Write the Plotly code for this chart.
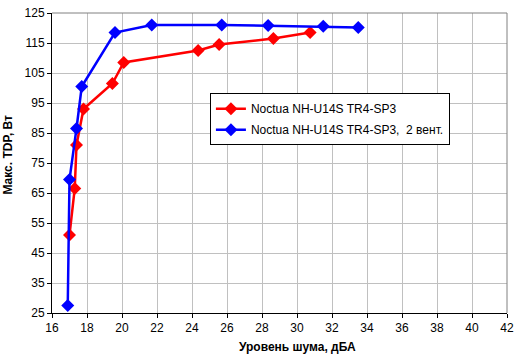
import plotly.graph_objects as go

red_x = [17.0, 17.3, 17.4, 17.8, 19.45, 20.1, 24.35, 25.55, 28.65, 30.75]
red_y = [51, 66.5, 81, 93, 101.5, 108.5, 112.5, 114.5, 116.5, 118.5]
blue_x = [16.9, 17.0, 17.4, 17.7, 19.6, 21.7, 25.7, 28.35, 31.5, 33.5]
blue_y = [27.5, 69.5, 86.5, 100.5, 118.5, 121, 121, 120.8, 120.6, 120.2]
red_name = "Noctua NH-U14S TR4-SP3"
blue_name = "Noctua NH-U14S TR4-SP3,  2 вент."
x_ticks = list(range(16, 43, 2))
y_ticks = list(range(25, 126, 10))

fig = go.Figure()
fig.add_trace(go.Scatter(x=red_x, y=red_y, name=red_name, mode="lines+markers",
                         legendgroup="a",
                         line=dict(color="#ff0000", width=2.5),
                         marker=dict(symbol="diamond", size=10, color="#ff0000")))
fig.add_trace(go.Scatter(x=blue_x, y=blue_y, name=blue_name, mode="lines+markers",
                         legendgroup="b",
                         line=dict(color="#0000ff", width=2.5),
                         marker=dict(symbol="diamond", size=10, color="#0000ff")))

font = "Liberation Sans, Arial, sans-serif"
fig.update_layout(
    width=520, height=356,
    margin=dict(l=52, r=7, t=6, b=43),
    paper_bgcolor="white", plot_bgcolor="white",
    font=dict(family=font, size=12, color="black"),
    showlegend=True,
    legend=dict(x=(212 - 52) / 461, y=(313 - 88) / 307, xanchor="left", yanchor="top",
                bgcolor="white", bordercolor="black", borderwidth=1,
                font=dict(size=12, family=font), itemwidth=30,
                tracegroupgap=2),
    xaxis=dict(range=[16, 42], tickvals=x_ticks, showgrid=True, gridcolor="#c0c0c0",
               gridwidth=1, showline=True, linecolor="black", linewidth=1,
               ticks="outside", ticklen=4, tickcolor="black", zeroline=False,
               tickfont=dict(size=12), ticklabeloverflow="allow"),
    yaxis=dict(range=[25, 125], tickvals=y_ticks, showgrid=True, gridcolor="#c0c0c0",
               gridwidth=1, showline=True, linecolor="black", linewidth=1,
               ticks="outside", ticklen=4, tickcolor="black", zeroline=False,
               tickfont=dict(size=12), ticklabeloverflow="allow"),
    shapes=[dict(type="line", xref="paper", yref="paper", x0=0, x1=1, y0=1, y1=1,
                 line=dict(color="#808080", width=1)),
            dict(type="line", xref="paper", yref="paper", x0=1, x1=1, y0=0, y1=1,
                 line=dict(color="#808080", width=1))],
    annotations=[
        dict(text="<b>Уровень шума, дБА</b>", xref="paper", yref="paper",
             x=(301 - 52) / 461, y=-0.113, xanchor="center", yanchor="middle",
             showarrow=False, font=dict(size=12, family=font)),
        dict(text="<b>Макс. TDP, Вт</b>", xref="paper", yref="paper",
             x=-0.097, y=(313 - 151) / 307, xanchor="center", yanchor="middle",
             textangle=-90, showarrow=False, font=dict(size=12, family=font)),
    ],
)
fig.write_html("out.html", config={"displayModeBar": False},
               post_script="document.body.style.margin='0';document.body.style.overflow='hidden';")
